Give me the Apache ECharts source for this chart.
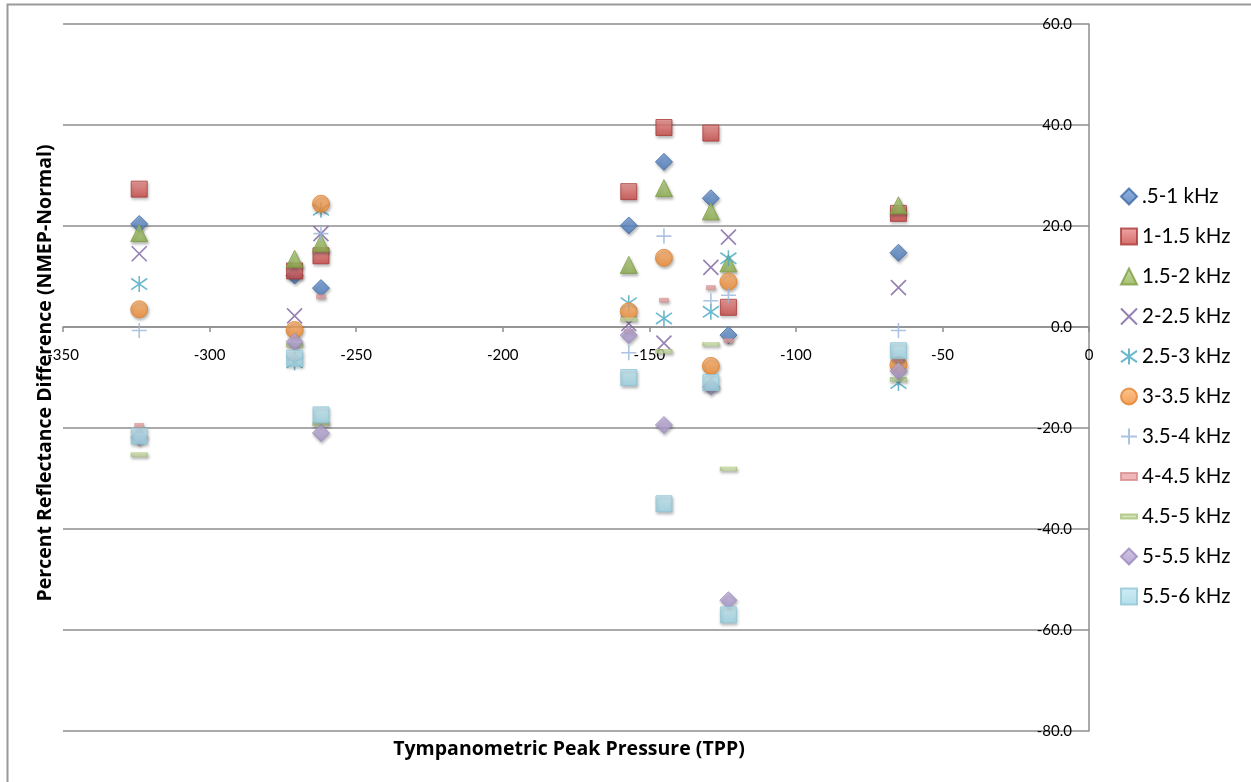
<!DOCTYPE html>
<html>
<head>
<meta charset="utf-8">
<title>Percent Reflectance Difference vs Tympanometric Peak Pressure</title>
<script src="https://cdn.jsdelivr.net/npm/echarts@6/dist/echarts.min.js"></script>
<style>
  html, body { margin: 0; padding: 0; background: #ffffff; }
  #chart { width: 1251px; height: 782px; }
</style>
</head>
<body>
<div id="chart"></div>
<script>
// Tympanometric peak pressure of each ear (x positions, daPa)
var tpp = [-324, -271, -262, -157, -145, -129, -123, -65];

// Percent reflectance difference (NMEP - Normal) per frequency band, one value per ear in tpp order
var band05_1   = [20.4, 10.2, 7.7, 20.1, 32.7, 25.5, -1.6, 14.7];
var band1_15   = [27.3, 11.1, 14.1, 26.8, 39.5, 38.4, 3.9, 22.5];
var band15_2   = [18.6, 13.5, 16.6, 12.3, 27.5, 22.9, 12.6, 24.1];
var band2_25   = [14.5, 2.2, 18.5, 0.7, -3.2, 11.8, 17.8, 7.8];
var band25_3   = [8.5, -7.0, 23.2, 4.7, 1.7, 3.0, 13.6, -11.1];
var band3_35   = [3.5, -0.6, 24.4, 3.1, 13.7, -7.7, 9.0, -7.5];
var band35_4   = [-0.7, -6.5, 18.5, -5.1, 18.0, 5.2, 6.3, -0.7];
var band4_45   = [-19.5, -6.0, 6.0, -0.9, 5.3, 7.8, -2.7, -6.5];
var band45_5   = [-25.3, -3.6, -19.2, 1.5, -4.8, -3.4, -28.1, -10.4];
var band5_55   = [-21.8, -2.9, -21.0, -1.6, -19.4, -11.8, -54.1, -8.7];
var band55_6   = [-21.6, -6.2, -17.4, -10.0, -35.0, -11.0, -57.0, -4.7];

var seriesNames = ['.5-1 kHz', '1-1.5 kHz', '1.5-2 kHz', '2-2.5 kHz', '2.5-3 kHz', '3-3.5 kHz',
                   '3.5-4 kHz', '4-4.5 kHz', '4.5-5 kHz', '5-5.5 kHz', '5.5-6 kHz'];
var seriesValues = [band05_1, band1_15, band15_2, band2_25, band25_3, band3_35,
                    band35_4, band4_45, band45_5, band5_55, band55_6];

// Axis ticks
var xMin = -350, xMax = 0, xStep = 50;
var yMin = -80, yMax = 60, yStep = 20;

var TICK_FONT = 'Lato, "Liberation Sans", sans-serif';
var TEXT_FONT = '"Open Sans", "Noto Sans", sans-serif';

// Plot rectangle (pixels)
var gridLeft = 63, gridRight = 162, gridTop = 24, gridBottom = 51;
var plotHeight = 782 - gridTop - gridBottom;
// Distance from the bottom of the plot up to the value 0 on the y axis
var zeroOffset = plotHeight * (0 - yMin) / (yMax - yMin);

function grad(top, bottom) {
  return new echarts.graphic.LinearGradient(0, 0, 0, 1, [
    { offset: 0, color: top },
    { offset: 1, color: bottom }
  ]);
}

var shadow = { shadowBlur: 3, shadowOffsetX: 1, shadowOffsetY: 2, shadowColor: 'rgba(0,0,0,0.35)' };

var PATH_X = 'path://M0,0L10,10M10,0L0,10';
var PATH_STAR = 'path://M0,1.5L10,8.5M10,1.5L0,8.5M5,0L5,10';
var PATH_PLUS = 'path://M5,0L5,10M0,5L10,5';

// Marker appearance for each band
var markers = [
  { symbol: 'diamond', size: 17, style: Object.assign({ color: grad('#75A0D8', '#4878BA'), borderColor: '#3D69A6', borderWidth: 1 }, shadow) },
  { symbol: 'rect', size: 16, style: Object.assign({ color: grad('#EB8F8D', '#C94643'), borderColor: '#A93A37', borderWidth: 1 }, shadow) },
  { symbol: 'triangle', size: 17, style: Object.assign({ color: grad('#B9D585', '#8DAF4C'), borderColor: '#7E9D42', borderWidth: 1 }, shadow) },
  { symbol: PATH_X, size: 15, style: { color: 'rgba(0,0,0,0)', borderColor: '#7B60A0', borderWidth: 1.6 } },
  { symbol: PATH_STAR, size: 16, style: { color: 'rgba(0,0,0,0)', borderColor: '#45A8C2', borderWidth: 1.6 } },
  { symbol: 'circle', size: 17, style: Object.assign({ color: grad('#FCB574', '#F0892F'), borderColor: '#E0822E', borderWidth: 1 }, shadow) },
  { symbol: PATH_PLUS, size: 15, style: { color: 'rgba(0,0,0,0)', borderColor: '#97B4DA', borderWidth: 1.6 } },
  { symbol: 'rect', size: [9, 4], icon: 'path://M0,0L9,0L9,4L0,4Z', style: Object.assign({ color: '#E9A6A5', borderColor: '#D58C8B', borderWidth: 0.6 }, shadow) },
  { symbol: 'rect', size: [16, 4], icon: 'path://M0,0L16,0L16,4L0,4Z', style: Object.assign({ color: '#C8DCA2', borderColor: '#A9C27C', borderWidth: 0.6 }, shadow) },
  { symbol: 'diamond', size: 17, style: Object.assign({ color: grad('#C6B8E0', '#A593C8'), borderColor: '#9C89BD', borderWidth: 1 }, shadow) },
  { symbol: 'rect', size: 16, style: Object.assign({ color: grad('#C4E9F3', '#9ED5E5'), borderColor: '#8EC5D6', borderWidth: 1 }, shadow) }
];

var series = seriesNames.map(function (name, i) {
  var vals = seriesValues[i];
  return {
    name: name,
    type: 'scatter',
    symbol: markers[i].symbol,
    symbolSize: markers[i].size,
    itemStyle: markers[i].style,
    emphasis: { disabled: true },
    data: tpp.map(function (x, k) { return [x, vals[k]]; }).filter(function (p) { return p[1] !== null; })
  };
});

var legendData = seriesNames.map(function (name, i) {
  var item = { name: name };
  if (markers[i].icon) { item.icon = markers[i].icon; }
  return item;
});

var chart = echarts.init(document.getElementById('chart'), null, { renderer: 'canvas' });

chart.setOption({
  backgroundColor: '#ffffff',
  animation: false,
  textStyle: { fontFamily: TEXT_FONT },
  grid: { left: gridLeft, right: gridRight, top: gridTop, bottom: gridBottom, containLabel: false },
  xAxis: {
    type: 'value',
    position: 'bottom',
    offset: -zeroOffset,
    min: xMin, max: xMax, interval: xStep,
    axisLine: { show: true, onZero: false, lineStyle: { color: '#8E8E8E', width: 1.5 } },
    axisTick: { show: true, length: 5, inside: false, lineStyle: { color: '#8E8E8E', width: 1.5 } },
    axisLabel: { show: true, margin: 21, fontSize: 15, color: '#000000', fontFamily: TICK_FONT,
                 showMinLabel: true, showMaxLabel: true },
    splitLine: { show: false }
  },
  yAxis: {
    type: 'value',
    position: 'right',
    min: yMin, max: yMax, interval: yStep,
    axisLine: { show: true, onZero: false, lineStyle: { color: '#8E8E8E', width: 1.5 } },
    axisTick: { show: false },
    axisLabel: { show: true, inside: true, margin: 17, fontSize: 15, color: '#000000', fontFamily: TICK_FONT,
                 formatter: function (v) { return v.toFixed(1); } },
    splitLine: { show: true, lineStyle: { color: '#8E8E8E', width: 1.5 } }
  },
  legend: {
    orient: 'vertical',
    left: 1115,
    top: 181,
    itemWidth: 16,
    itemHeight: 16,
    itemGap: 19,
    selectedMode: false,
    textStyle: { fontSize: 20.5, color: '#000000', fontFamily: TICK_FONT, lineHeight: 21 },
    data: legendData
  },
  graphic: [
    {
      type: 'rect',
      silent: true,
      shape: { x: 7.5, y: 4.5, width: 1300, height: 900 },
      style: { fill: 'none', stroke: '#9A9A9A', lineWidth: 2 }
    },
    {
      type: 'text',
      silent: true,
      x: 45, y: 373,
      rotation: Math.PI / 2,
      style: {
        text: 'Percent Reflectance Difference (NMEP-Normal)',
        fontFamily: TEXT_FONT, fontSize: 19.5, fontWeight: 'bold', fill: '#000000',
        align: 'center', verticalAlign: 'middle'
      }
    },
    {
      type: 'text',
      silent: true,
      x: 569, y: 749,
      style: {
        text: 'Tympanometric Peak Pressure (TPP)',
        fontFamily: TEXT_FONT, fontSize: 19.5, fontWeight: 'bold', fill: '#000000',
        align: 'center', verticalAlign: 'middle'
      }
    }
  ],
  series: series
});
</script>
</body>
</html>
